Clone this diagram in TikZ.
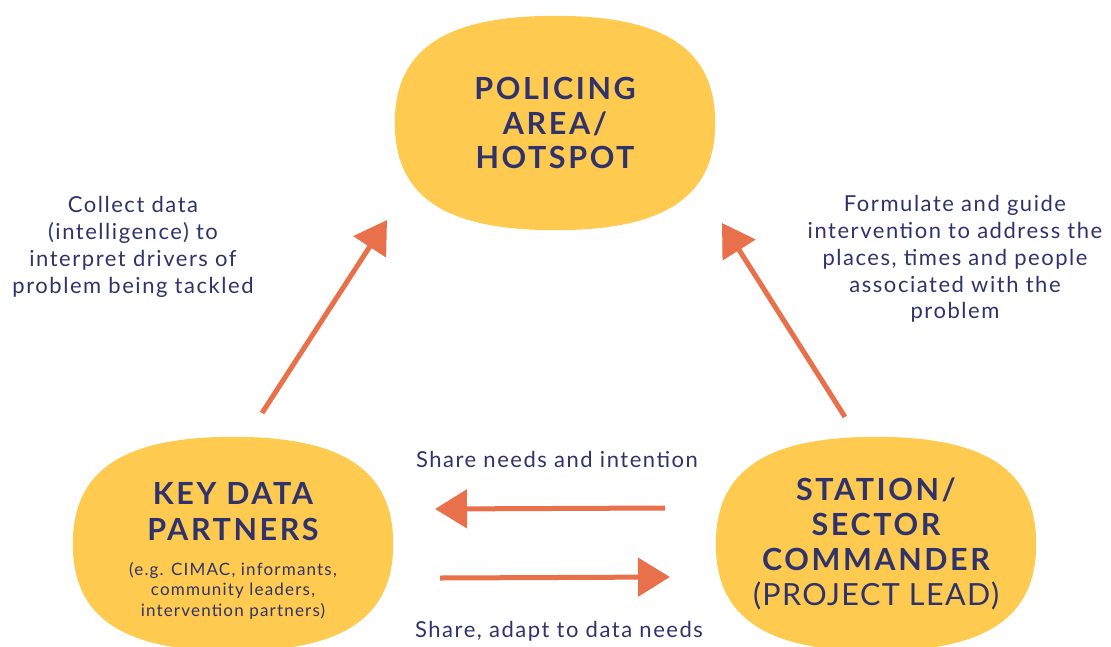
\documentclass[tikz,border=0pt]{standalone}
\usepackage{fontspec}
\setmainfont{Lato}[LetterSpace=7]
\newfontfamily\headfont{Lato}[LetterSpace=8.5]
\newfontfamily\headreg{Lato}[LetterSpace=4.5]
\usetikzlibrary{arrows.meta}
\definecolor{blobyellow}{HTML}{FECB50}
\definecolor{arroworange}{HTML}{E8704A}
\definecolor{navy}{HTML}{30336B}
\pgfdeclarelayer{bg}
\pgfsetlayers{bg,main}
\newcommand{\hd}[1]{{\headfont\bfseries\fontsize{30.5}{35}\selectfont #1}}
\newcommand{\hr}[1]{{\headreg\fontsize{30.5}{35}\selectfont #1}}
\newcommand{\sm}[1]{{\fontsize{17}{20.5}\selectfont #1}}
\newcommand{\blobfill}[1]{%
  \fill[blobyellow] (#1.east)
    .. controls ([yshift=73pt]#1.east) and ([xshift=111pt]#1.north) .. (#1.north)
    .. controls ([xshift=-111pt]#1.north) and ([yshift=73pt]#1.west) .. (#1.west)
    .. controls ([yshift=-73pt]#1.west) and ([xshift=-111pt]#1.south) .. (#1.south)
    .. controls ([xshift=111pt]#1.south) and ([yshift=-73pt]#1.east) .. cycle;}
\begin{document}
\begin{tikzpicture}[x=1pt,y=-1pt,
  blob/.style={rectangle, minimum width=320pt, minimum height=214pt, inner sep=0pt, align=center, text=navy},
  lbl/.style={align=center, text=navy, inner sep=0pt, font=\fontsize{22}{26.8}\selectfont},
  flow/.style={draw=arroworange, line width=5pt, -{Triangle[length=32pt,width=38pt]}}]
\useasboundingbox (0,0) rectangle (1111,646);
\clip (0,0) rectangle (1111,646);
\node[blob, font=\fontsize{30.5}{34.5}\selectfont] (pol) at (555,123) {\hd{POLICING}\\\hd{AREA/}\\\hd{HOTSPOT}};
\node[blob] (kdp) at (233,544) {};
\node[align=center, text=navy, inner sep=0pt, font=\fontsize{17}{20.5}\selectfont] (kdpt) at (233,551)
  {\hd{KEY DATA}\\[13pt]\hd{PARTNERS}\\[14pt]\sm{(e.g. CIMAC, informants,}\\\sm{community leaders,}\\\sm{intervention partners)}};
\node[blob, font=\fontsize{30.5}{35}\selectfont] (ssc) at (876,544) {\hd{STATION/}\\\hd{SECTOR}\\\hd{COMMANDER}\\\hr{(PROJECT LEAD)}};
\begin{pgfonlayer}{bg}
\blobfill{pol}
\blobfill{kdp}
\blobfill{ssc}
\end{pgfonlayer}
\node[lbl] (lc) at (133,247) {Collect data\\(intelligence) to\\interpret drivers of\\problem being tackled};
\node[lbl] (lf) at (955,259) {Formulate and guide\\intervention to address the\\places, times and people\\associated with the\\problem};
\node[lbl, anchor=base] (ls) at (557,467) {Share needs and intention};
\node[lbl, anchor=base] (la) at (559,637) {Share, adapt to data needs};
\coordinate (a1s) at (262,413); \coordinate (a1e) at (387,220);
\coordinate (a2s) at (845,417); \coordinate (a2e) at (722,223);
\coordinate (a3s) at (665,508); \coordinate (a3e) at (435,509);
\coordinate (a4s) at (440,578); \coordinate (a4e) at (670,577);
\draw[flow] (a1s) -- (a1e);
\draw[flow] (a2s) -- (a2e);
\draw[flow] (a3s) -- (a3e);
\draw[flow] (a4s) -- (a4e);
\end{tikzpicture}
\end{document}
